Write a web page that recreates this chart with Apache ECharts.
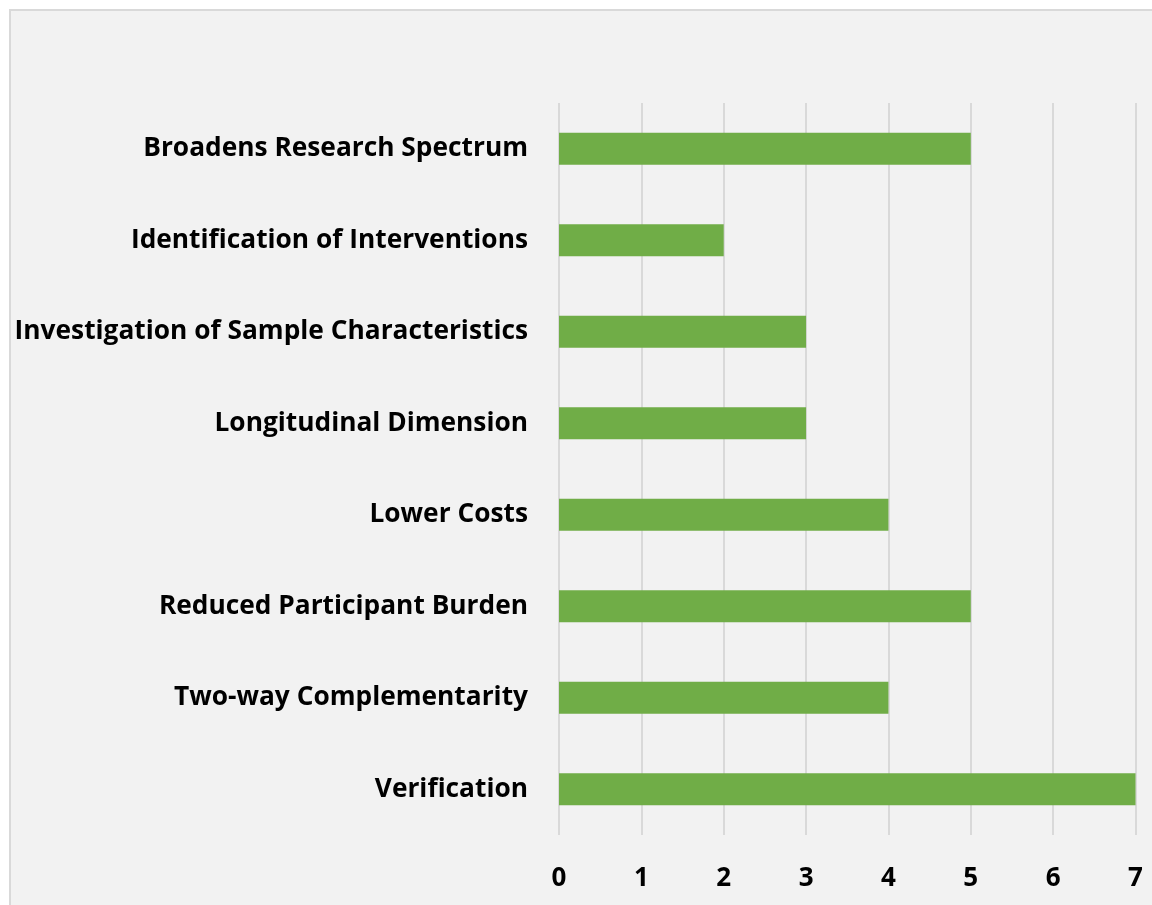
<!DOCTYPE html>
<html><head><meta charset="utf-8">
<script src="https://cdn.jsdelivr.net/npm/echarts@6/dist/echarts.min.js"></script>
<style>html,body{margin:0;padding:0;background:#fff}#c{width:1152px;height:905px}</style>
</head><body><div id="c"></div>
<script>
const categories = ["Broadens Research Spectrum","Identification of Interventions","Investigation of Sample Characteristics","Longitudinal Dimension","Lower Costs","Reduced Participant Burden","Two-way Complementarity","Verification"];
const values = [5,2,3,3,4,5,4,7];
const xTicks = [0,1,2,3,4,5,6,7];
const FONT = "Open Sans";
const chart = echarts.init(document.getElementById('c'));
chart.setOption({
  backgroundColor: '#ffffff',
  animation: false,
  graphic: [{type:'rect', silent:true, z:-10, shape:{x:10,y:10,width:1200,height:1000}, style:{fill:'#f2f2f2', stroke:'#d9d9d9', lineWidth:2}}],
  grid: {left:559, right:16.5, top:103, bottom:70, containLabel:false},
  xAxis: {type:'value', min:xTicks[0], max:xTicks[xTicks.length-1], interval:1,
    axisLine:{show:false}, axisTick:{show:false},
    splitLine:{show:true, lineStyle:{color:'#d9d9d9', width:2}},
    axisLabel:{color:'#000', fontFamily:FONT, fontWeight:'bold', fontSize:26, margin:31}},
  yAxis: {type:'category', data:categories, inverse:true,
    axisLine:{show:false}, axisTick:{show:false},
    axisLabel:{color:'#000', fontFamily:FONT, fontWeight:'bold', fontSize:26.3, margin:31, lineHeight:30, padding:[4,0,0,0]}},
  series: [{type:'bar', data:values, barWidth:'35%', itemStyle:{color:'#70ad47'}}]
});
</script></body></html>
